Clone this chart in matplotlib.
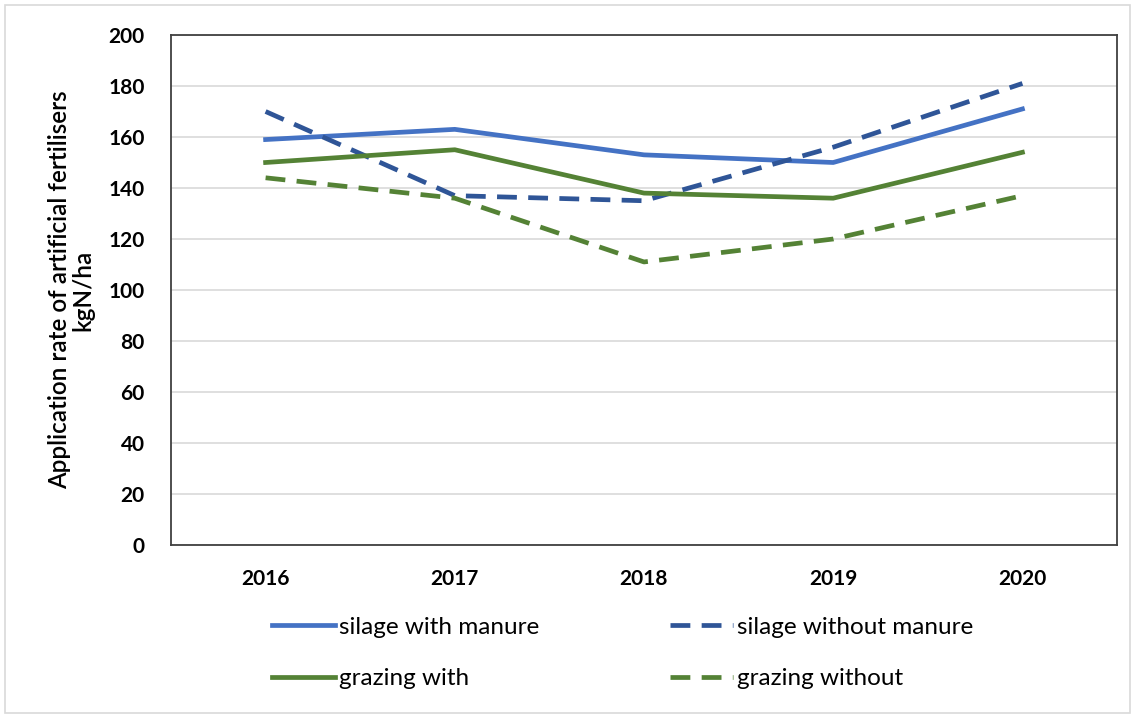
import matplotlib.pyplot as plt
from matplotlib.patches import Rectangle

plt.rcParams['font.family'] = ['Lato', 'DejaVu Sans']

years = ['2016', '2017', '2018', '2019', '2020']
silage_with = [159, 163, 153, 150, 171]
silage_without = [170, 137, 135, 156, 181]
grazing_with = [150, 155, 138, 136, 154]
grazing_without = [144, 136, 111, 120, 137]

fig = plt.figure(figsize=(11.35, 7.18), dpi=100)
ax = fig.add_axes([171 / 1135, 1 - 545 / 718, 946 / 1135, 510 / 718])

# light outer frame around the whole chart
fig.patches.append(Rectangle((5 / 1135, 5 / 718), 1125 / 1135, 708 / 718,
                             transform=fig.transFigure, fill=False,
                             edgecolor='#d9d9d9', linewidth=1.2))

x = range(len(years))
dash = (0, (4.2, 2.4))
lw = 3.4
l1, = ax.plot(x, silage_with, color='#4472C4', linewidth=lw, label='silage with manure')
l2, = ax.plot(x, silage_without, color='#2F5597', linewidth=lw, linestyle=dash,
              label='silage without manure')
l3, = ax.plot(x, grazing_with, color='#548235', linewidth=lw, label='grazing with')
l4, = ax.plot(x, grazing_without, color='#548235', linewidth=lw, linestyle=dash,
              label='grazing without')

ax.set_xlim(-0.5, 4.5)
ax.set_ylim(0, 200)
ax.set_yticks(range(0, 201, 20))
ax.set_xticks(list(x))
ax.set_xticklabels(years)
ax.grid(axis='y', color='#d9d9d9', linewidth=1.2)
ax.set_axisbelow(True)
ax.tick_params(length=0, labelsize=15, pad=19)
ax.tick_params(axis='x', pad=17)
for lab in ax.get_xticklabels() + ax.get_yticklabels():
    lab.set_fontweight('bold')
for s in ax.spines.values():
    s.set_color('#404040')
    s.set_linewidth(1.3)

ax.set_ylabel('Application rate of artificial fertilisers\nkgN/ha', fontsize=17.5,
              labelpad=10, linespacing=1.0, fontweight='semibold')

# legend filled row by row (matplotlib fills columns first)
handles = [l1, l3, l2, l4]
fig.legend(handles, [h.get_label() for h in handles],
           loc='center left', bbox_to_anchor=(250 / 1135, 1 - 653 / 718), ncol=2,
           frameon=False, fontsize=17.5, handlelength=2.6, handletextpad=0.15,
           columnspacing=5.4, labelspacing=1.25)

fig.savefig('out.png', dpi=100)
